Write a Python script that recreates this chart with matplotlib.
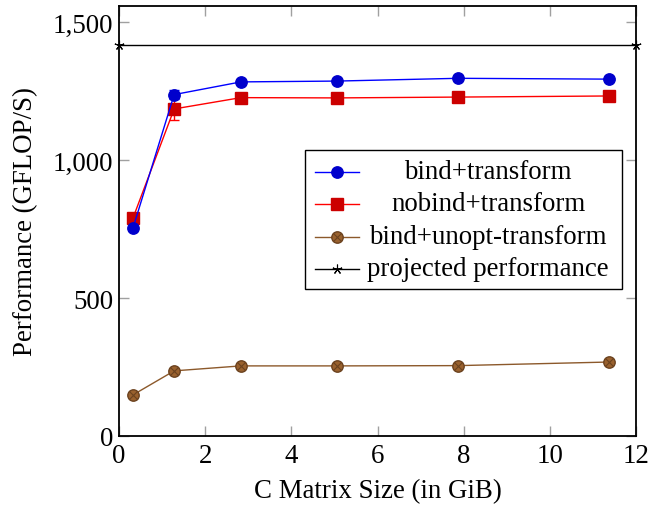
import matplotlib
matplotlib.use("Agg")
import matplotlib.pyplot as plt
from matplotlib.ticker import FuncFormatter
from matplotlib.lines import Line2D
from matplotlib.patches import Rectangle

plt.rcParams['font.family'] = ['Liberation Serif', 'DejaVu Serif']
plt.rcParams['mathtext.fontset'] = 'stix'

# data
sizes = [0.325, 1.28, 2.83, 5.06, 7.87, 11.37]
bind_transform = [754, 1237, 1283, 1286, 1296, 1293]
bind_transform_err = [0, 17, 0, 0, 0, 0]
nobind_transform = [790, 1185, 1226, 1225, 1228, 1232]
nobind_transform_err = [0, 40, 0, 0, 0, 0]
bind_unopt = [149, 236, 254, 254, 255, 268]
projected_x = [0, 12]
projected_y = [1417, 1417]
labels = ["bind+transform", "nobind+transform", "bind+unopt-transform", "projected performance"]

FS = 19.4
fig = plt.figure(figsize=(6.52, 5.06), dpi=100)
ax = fig.add_axes([119/652, (506-437)/506, (636-119)/652, (437-7)/506])

blue_line, blue_mk = (0, 0, 1), (0, 0, 0.8)
red_line, red_mk = (1, 0, 0), (0.8, 0, 0)
brown_line, brown_mk, brown_edge = (0.55, 0.35, 0.17), (0.6, 0.38, 0.18), (0.42, 0.26, 0.12)

ax.errorbar(sizes, bind_transform, yerr=bind_transform_err, color=blue_line, lw=1.0,
            marker='o', ms=8.2, mfc=blue_mk, mec=blue_mk, capsize=3.5, elinewidth=1.0, zorder=4)
ax.errorbar(sizes, nobind_transform, yerr=nobind_transform_err, color=red_line, lw=1.0,
            marker='s', ms=8.0, mfc=red_mk, mec=red_mk, capsize=3.5, elinewidth=1.0, zorder=3)
ax.plot(sizes, bind_unopt, color=brown_line, lw=1.0, marker='o', ms=8.2,
        mfc=brown_mk, mec=brown_edge, zorder=3)
ax.plot(sizes, bind_unopt, ls='none', marker='x', ms=5.5, mec=brown_edge, mew=0.8, zorder=4)
ax.plot(projected_x, projected_y, color='black', lw=1.0, marker=(5, 2, 0), ms=7, mew=0.8,
        clip_on=False, zorder=5)

ax.set_xlim(0, 12)
ax.set_ylim(0, 1558)
ax.set_xticks([0, 2, 4, 6, 8, 10, 12])
ax.set_yticks([0, 500, 1000, 1500])
ax.yaxis.set_major_formatter(FuncFormatter(lambda v, p: f"{v:,.0f}"))
ax.tick_params(direction='in', length=7, width=1.0, color='#a0a0a0', labelsize=FS,
               top=True, right=True, pad=4)
ax.tick_params(axis='x', pad=5)
for s in ax.spines.values():
    s.set_linewidth(1.3)

ax.set_xlabel("C Matrix Size (in GiB)", fontsize=FS, labelpad=7)
ax.set_ylabel("Performance (GFLOP/S)", fontsize=FS, labelpad=11)

# legend (drawn in axes coordinates, centered text like pgfplots)
x0, x1 = (305-119)/517, (622-119)/517
yb, yt = (437-290)/430, (437-151)/430
ax.add_patch(Rectangle((x0, yb), x1-x0, yt-yb, transform=ax.transAxes, fill=True,
                       fc='white', ec='black', lw=1.0, zorder=6))
rows = [(437-173)/430, (437-205)/430, (437-238)/430, (437-270)/430]
hx0, hx1, hm = (315-119)/517, (359-119)/517, (337-119)/517
tx = (488-119)/517
styles = [
    dict(color=blue_line, marker='o', ms=8.2, mfc=blue_mk, mec=blue_mk),
    dict(color=red_line, marker='s', ms=8.0, mfc=red_mk, mec=red_mk),
    dict(color=brown_line, marker='o', ms=8.2, mfc=brown_mk, mec=brown_edge),
    dict(color='black', marker=(5, 2, 0), ms=7, mew=0.8),
]
for yy, st, lab, i in zip(rows, styles, labels, range(4)):
    ax.add_line(Line2D([hx0, hx1], [yy, yy], transform=ax.transAxes, color=st['color'], lw=1.0, zorder=7))
    ax.add_line(Line2D([hm], [yy], transform=ax.transAxes, ls='none',
                       **{k: v for k, v in st.items() if k != 'color'}, color=st['color'], zorder=8))
    if i == 2:
        ax.add_line(Line2D([hm], [yy], transform=ax.transAxes, ls='none', marker='x', ms=5.5,
                           mec=brown_edge, mew=0.8, zorder=9))
    ax.text(tx, yy, lab, transform=ax.transAxes, ha='center', va='center', fontsize=FS, zorder=8)

fig.savefig("out.png", dpi=100)
